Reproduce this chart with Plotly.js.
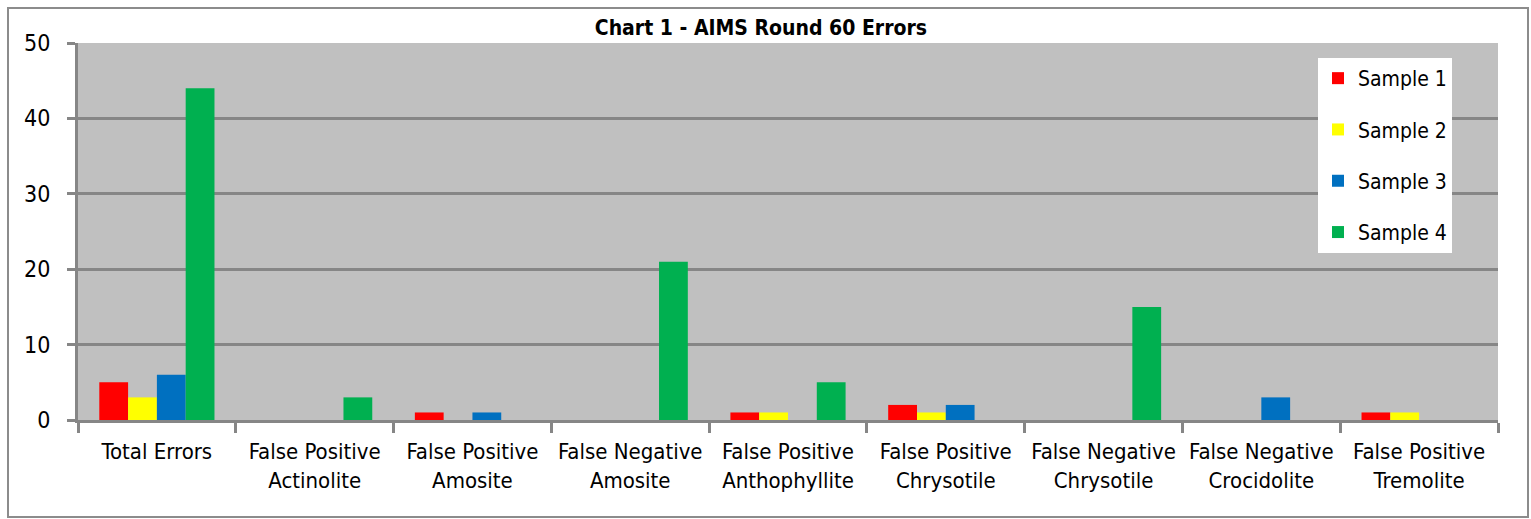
<!DOCTYPE html>
<html>
<head>
<meta charset="utf-8">
<script src="https://cdn.plot.ly/plotly-3.0.1.min.js"></script>
<style>
html,body{margin:0;padding:0;background:#fff;}
#chart{width:1531px;height:519px;}
</style>
</head>
<body>
<div id="chart"></div>
<script>
const categories = [
  "Total Errors",
  "False Positive<br>Actinolite",
  "False Positive<br>Amosite",
  "False Negative<br>Amosite",
  "False Positive<br>Anthophyllite",
  "False Positive<br>Chrysotile",
  "False Negative<br>Chrysotile",
  "False Negative<br>Crocidolite",
  "False Positive<br>Tremolite"
];
const sample1 = [5, 0, 1, 0, 1, 2, 0, 0, 1];
const sample2 = [3, 0, 0, 0, 1, 1, 0, 0, 1];
const sample3 = [6, 0, 1, 0, 0, 2, 0, 3, 0];
const sample4 = [44, 3, 0, 21, 5, 0, 15, 0, 0];
const seriesNames = ["Sample 1", "Sample 2", "Sample 3", "Sample 4"];
const seriesColors = ["#ff0000", "#ffff00", "#0070c0", "#00b050"];
const yTicks = [0, 10, 20, 30, 40, 50];

const FONT = "'DejaVu Sans Condensed', 'Liberation Sans Narrow', sans-serif";
const allSeries = [sample1, sample2, sample3, sample4];
const traces = allSeries.map((vals, i) => ({
  type: "bar",
  x: categories,
  y: vals,
  name: seriesNames[i],
  legendgroup: "g" + i,
  marker: {color: seriesColors[i], line: {width: 0}},
  hoverinfo: "x+y+name"
}));

const layout = {
  width: 1531,
  height: 519,
  margin: {l: 78, r: 33, t: 43, b: 99, pad: 0},
  paper_bgcolor: "#ffffff",
  plot_bgcolor: "#c0c0c0",
  barmode: "group",
  bargap: 0.27,
  bargroupgap: 0,
  font: {family: FONT, size: 20, color: "#000"},
  title: {
    text: "<b>Chart 1 - AIMS Round 60 Errors</b>",
    font: {family: FONT, size: 21, color: "#000"},
    x: 0.497, xanchor: "center",
    y: 1 - 28/519, yanchor: "middle", yref: "container"
  },
  xaxis: {
    type: "category",
    showgrid: false,
    showline: true,
    linecolor: "#868686",
    linewidth: 3,
    ticks: "outside",
    tickson: "boundaries",
    ticklen: 10,
    tickwidth: 3,
    tickcolor: "#868686",
    ticklabelstandoff: 10,
    tickfont: {family: FONT, size: 22, color: "#000"},
    fixedrange: true,
    automargin: false
  },
  yaxis: {
    range: [0, 50],
    tickvals: yTicks,
    ticktext: yTicks.map(String),
    showgrid: true,
    gridcolor: "#868686",
    gridwidth: 3,
    zeroline: false,
    showline: true,
    linecolor: "#868686",
    linewidth: 3,
    ticks: "outside",
    ticklen: 8,
    tickwidth: 3,
    tickcolor: "#868686",
    ticklabelstandoff: 12,
    tickfont: {family: FONT, size: 23, color: "#000"},
    fixedrange: true,
    automargin: false
  },
  legend: {
    x: (1318 - 78) / 1420,
    y: (420 - 58) / 377,
    xanchor: "left",
    yanchor: "top",
    bgcolor: "#ffffff",
    borderwidth: 0,
    font: {family: FONT, size: 21, color: "#000"},
    tracegroupgap: 21,
    itemwidth: 30,
    traceorder: "grouped"
  },
  showlegend: true,
  shapes: [{
    type: "rect",
    xref: "paper", yref: "paper",
    x0: (8 - 78) / 1420, x1: (1528 - 78) / 1420,
    y0: (420 - 517) / 377, y1: (420 - 8) / 377,
    line: {color: "#8c8c8c", width: 2},
    fillcolor: "rgba(0,0,0,0)",
    layer: "below"
  }]
};

Plotly.newPlot("chart", traces, layout, {displayModeBar: false, staticPlot: true});
</script>
</body>
</html>
